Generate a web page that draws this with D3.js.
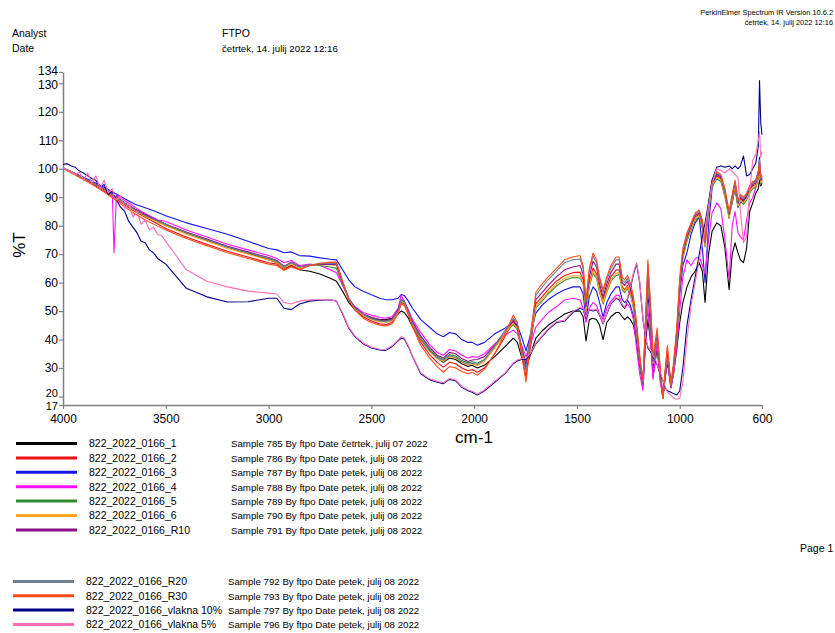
<!DOCTYPE html>
<html><head><meta charset="utf-8">
<script src="https://cdn.jsdelivr.net/npm/d3@7/dist/d3.min.js"></script>
<style>body{margin:0;background:#fff;} svg{display:block;font-family:"Liberation Sans",Arial,sans-serif;}</style>
</head><body><svg id="c" width="835" height="633"></svg>
<script>
// ---------------- DATA ----------------
const xTicks = [4000, 3500, 3000, 2500, 2000, 1500, 1000, 600];
const yTicks = [17, 20, 30, 40, 50, 60, 70, 80, 90, 100, 110, 120, 130, 134];

const seriesNames = ["822_2022_0166_1","822_2022_0166_2","822_2022_0166_3","822_2022_0166_4","822_2022_0166_5","822_2022_0166_6","822_2022_0166_R10","822_2022_0166_R20","822_2022_0166_R30","822_2022_0166_vlakna 10%","822_2022_0166_vlakna 5%"];
const sampleInfo = ["Sample 785 By ftpo Date četrtek, julij 07 2022","Sample 786 By ftpo Date petek, julij 08 2022","Sample 787 By ftpo Date petek, julij 08 2022","Sample 788 By ftpo Date petek, julij 08 2022","Sample 789 By ftpo Date petek, julij 08 2022","Sample 790 By ftpo Date petek, julij 08 2022","Sample 791 By ftpo Date petek, julij 08 2022","Sample 792 By ftpo Date petek, julij 08 2022","Sample 793 By ftpo Date petek, julij 08 2022","Sample 797 By ftpo Date petek, julij 08 2022","Sample 796 By ftpo Date petek, julij 08 2022"];
const seriesColors = ["#000000","#e81010","#1515e6","#ff10ff","#2e8b2e","#ffa520","#8a108a","#708090","#ff4a1a","#00008b","#ff6eb4"];

// wavenumber grids (cm-1)
const wnHeadCoarse = [4000,3950,3900,3850,3800,3750,3700,3650,3600,3550];
const wnHeadFine = [4000,3980,3960,3940,3920,3900,3880,3860,3840,3820,3800,3780,3760,3752,3740,3720,3700,3680,3660,3640,3620,3600,3580,3560,3540,3520];
const wnBody = [3500,3400,3300,3200,3100,3000,2960,2925,2890,2850,2800,2750,2700,2670,2640,2610,2580,2540,2500,2460,2430,2400,2370,2355,2340,2320,2300,2260,2220,2180,2150,2120,2090,2060,2030,2010,1985,1950,1900,1850,1810,1790,1770,1748,1725,
 1700,1670,1640,1600,1560,1520,1485,1470,1456,1440,1422,1405,1390,1373,1355,1335,1310,1295,1280,1268,1255,1240,1225,1210,1195,1179,1165,1155,1140,1130,1120,1110,1095,1082,1070,1060,1043,1030,1014,1000,985,965,945,925,905,890,877,860,843,820,800,780,760,745,731,717,705,690,675,660,645,630,618,612,606,600];

// %T values
const s1Head = [100.3,98.5,96.7,94.8,92.8,90.5,88,85.8,84,82.3];
const s1Body = [80.5,77.5,75,72.5,70.3,68,67,65,66,64.5,64,63,61.5,60.5,57,53,50.5,48.5,47.5,47,47,47.5,49,50,49.5,47.5,44.5,40,36.5,33.5,32,33.5,33,31.5,30.5,31,30,31,34,37.5,40.5,39,34,30,35,
 40.5,43,45,47,49,50,50,48,39.5,47,47.5,47,45,40,46,48,49.5,49.5,48,47,48,47,45,39,31,24,40,47,38,27,32,37,26,20,27,32,23,28,37,46,53,58.5,62,64,67,64,53,70,78,81,80,72,57.5,70,74,70.5,68,67,72,85,88,91.5,93,96,94,95];

const s2Head = [100.2,98.3,96.4,94.4,92.2,89.8,87.3,85,83,81];
const s2Body = [79,76,73.5,71,69,67,66.5,64.5,66,64.8,66,66.5,67,67,60,54,50.5,48,46.5,45.5,45.3,46,49.5,53,52.5,49,45,39,35,32,30.3,32,31.5,30,29,29.5,28.5,30,35,41,47,44.5,35,27,38,
 52.5,55,57.5,60.5,62.5,63.5,63.7,61,50.5,60,65.1,63,58,54,58,62,64.4,64.5,58.5,57.5,59,56.5,52,43,33,24.5,46,63.5,46,32,37,41.5,28,19.5,29,35.5,23.5,30,42.5,59.5,69.5,75.5,79.5,83,84,80,73.5,86.5,94.5,97.5,96.5,91,83.5,89.5,94.5,87.5,89.5,88.5,90,92.5,94,94.5,97.5,99,95.5,96.5];

const s3Head = [100.4,98.7,97,95.3,93.5,91.5,89.5,87.5,86.3,85];
const s3Body = [83.5,81,79,77,74.5,72,71.5,70.5,70.8,69.5,69.3,68.7,68.2,68,64.5,61,58.5,57,55.7,54.5,54,54,54.5,55.8,55.5,53.5,51,47,44.5,42,41,42.5,42,40,39,39,38,39,42,44,46,45,41,36,42,
 49.3,52,54,56,57.5,58.5,58.5,56,47,55,58.5,57,53,48,53,56,58.5,58.5,54,53,54,52,48,40,31,24,45,56.5,42,30,35,40,27,19.5,28,35,24,31,42,56,66,70.5,77,81,83,72,60,80,93,98.5,97,92,84,88,93,86.5,88,89,90,94,95,96,99,104,96,97];

const s4Head = [100.3,99.6,98.9,98.2,97.5,96.8,96,95.5,94.6,94,93,92.3,91.5,70.5,90.8,89.8,88.8,88,87,86,85,84.3,83.5,82.8,82,81.8];
const s4Body = [81.5,78.5,76,73.5,71.5,69.5,68.5,67,67.8,66,66.5,66,64.5,63.5,59,54.5,51.5,49.5,48.5,47.8,47.5,48,51,55.5,53.5,50.5,47,42.5,38.5,35.5,34.5,36.5,36,34.5,33.5,34,33.8,35,38.5,41.5,43.3,42,38,34,38.5,
 44.4,47,49.5,51.5,53.9,54.5,54,51,46,51,53,52,49,47,51,53.5,55.5,55.5,52,51,52.5,51,47,37,28,22,42,51,37,26,33,38,25,19.5,27,33,23,28,38,50,62,68,66,68.5,69,66,63,75,84.5,88,86,75,61,80,85,77.5,76,75,82,88,90,93.5,97,100,95,96];

const s5Head = [100.3,98.5,96.7,94.8,92.7,90.3,87.8,85.5,83.5,81.8];
const s5Body = [80,77.5,75,72.5,70.5,68.5,67.5,65.5,67,65.5,66,66,65.5,65,59.5,54,51,48.8,47.5,46.8,46.5,47,50,53.5,53,49.5,45.8,40.5,36.8,34,33,34.7,34.2,32.6,31.8,32.2,31.7,33,37.5,42,45.3,43.5,37,32,40,
 51,53.5,56,58.8,60.8,61.8,61.6,59.5,49.5,58.5,63.3,61.5,56.5,52.5,56.5,60.5,62.5,62.8,57.5,56.5,58,55.5,51,42,32.5,24.5,45,62.5,45,31.5,36.5,40.5,28,19.5,28.5,35,23.5,29.5,41.5,58.5,68.5,74.5,78.5,82,83,79,72.5,85.5,93.5,96.5,95.5,90,82.5,88.5,93.5,86.5,88.5,87.5,89,91.5,93,93.5,96.5,97.5,94.5,95.5];

const s6Head = [100.3,98.4,96.6,94.7,92.6,90.2,87.7,85.3,83.3,81.6];
const s6Body = [80,77,74.5,72,70,68,67,65,66.5,65,66,66.3,66.3,66,60,54,50.8,48.5,47,46.3,46,46.5,49.5,53.5,53,49.3,45.5,40,36,33.3,32.3,34,33.5,32,31,31.5,30.8,32.3,37,42,46,44,36.5,31,40.5,
 51.5,54,56.5,59.5,61.5,62.5,62.3,60,50,59,64,62,57,53,57,61,63.3,63.5,58,57,58.5,56,51.5,42.5,32.5,24.5,45.5,63,45.5,31.5,36.5,41,28,19.5,28.5,35,23.5,30,42,59,69,75,79,82.5,83.5,79.5,73,86,94,97,96,90.5,83,89,94,87,89,88,89.5,92,93.5,94,97,98,95,96];

const r10Head = [100.3,98.5,96.7,94.8,92.8,90.5,88,85.8,83.8,82.2];
const r10Body = [80.5,77.8,75.3,72.8,70.8,68.8,67.8,65.8,67.2,65.6,66.2,66.4,66.4,66.3,60,54.5,51.3,49,47.8,47,46.8,47.3,50.5,54,53.5,50,46.3,41.3,37.5,34.5,33.5,35.5,35,33.3,32.3,32.8,33,34,38,43,46.5,44.5,37.5,31,42,
 54,56.5,59,62,64.5,65.5,66,63,51.5,62,67.5,65.5,59.5,55,59.5,63.5,66.5,66.5,60,59,60.5,58,53,44,33.5,24.5,47,65,47,32.5,37.5,42,28.5,19.5,29,36,23.5,30.5,43,60,70,76,80,83.5,84.5,80.5,74,87,95,98,97,91.5,84,90,95,88,90,89,90.5,93,94.5,95,98,100,96,97];

const r20Head = [100.3,98.5,96.7,94.8,92.7,90.4,87.9,85.6,83.6,82];
const r20Body = [80.5,77.5,75,72.5,70.5,68.5,67.5,65.5,67,65.5,66.3,66.6,66.8,66.7,60.5,54.5,51,48.8,47.3,46.5,46.3,46.8,50,53.8,53.3,49.7,45.7,40,36.3,33.6,32.7,34.3,33.8,32.2,31.3,31.7,31.2,32.8,37.8,43,47.5,45.5,37,29,42.5,
 55.5,58.3,61,64,67,68,68.3,65,53,64,69.3,67,61,56.5,61,65,68,68,61,60,61.5,59,54,45,34,25,48.5,66.5,48.5,33,38,43,29,19.5,29.5,37,24,31,44,61,71,76.8,80.5,84,85,81,74.5,87.5,95.5,98.5,97.5,92,84.5,90.5,95.5,88.5,90.5,89.5,91,93.5,95,95.5,98.5,101,96.5,97.5];

const r30Head = [100.1,98.2,96.2,94.1,91.8,89.3,86.6,84.2,82,80.2];
const r30Body = [78.5,75.5,73,70.5,68.5,66.5,66,64.3,65.5,64.5,66,66.8,67.2,67.2,60.5,54,50.3,47.5,46,45,44.8,45.5,49,52.5,52,48.5,44.5,38,33.8,30.5,28.5,30.5,30,28.8,28,28.5,27.5,29.5,35,42,48.6,46,35,25,40,
 56.7,59.5,62,65,68,69,69.5,66,54,65,70.4,68,62,57.5,62,66,69,69,62,61,62.5,60,55,46,35,25.5,50,68,50,34,39,44,30,19.5,30,38,24,32,45,62,72,77.5,81,84.5,85.5,82,75,88,96,99,98,93,85,91,96,89,91,90,91.5,94,95.5,96,99,103,97,98];

const v10Head = [101.5,101.8,101,100.5,99.2,98.5,97.5,96.6,96,93.5,94.5,91,92,90.5,89,86.5,85,81.5,79.5,77.5,74.5,74,71.5,70.5,68.5,67.5];
const v10Body = [66.5,58,55,53.2,53.3,54.5,54.5,51,50.5,52.5,53.5,53.8,54,53.5,49,44,41,38.5,37,36.3,36.2,37.5,39.5,40.5,40.2,37.5,34,28,26,25,24.5,26,25.5,23.2,22,21.5,20.5,22,25,28,31.5,32.5,33,33,35,
 38.5,41,43.5,46,46.5,49.5,51,50.5,47.5,50.5,50,50.5,48.5,45.5,49,52.5,54.5,54,52,51,54,58,63,66.5,60,47,40,37,35.5,34,33,31,28,25.5,23,22,21.5,21,20.5,22,30,45,54,62,70,76,81,88,96,100.5,101,100.5,101,100,101,100,101,104.5,97.5,98,100,102,108,131,116,112];

const v5Head = [100.5,99.5,99,98,98.8,96,98.5,95,97.5,93,96,91.5,93,90,89,90.5,86,88,83,85,80.5,82,78.5,79.5,77,76.5];
const v5Body = [74.5,64.5,60.5,58.5,57,56.3,56,53,52.5,53.5,54,54,54,53.5,49.3,44.3,41.3,38.8,37.3,36.6,36.5,37.8,39.8,41,40.5,37.8,34.3,28.3,26.3,25.3,24.8,26.3,25.8,23.5,22.3,21.8,20.8,22.3,25.3,28.3,31.8,32.8,33.3,33.5,35.3,
 38.8,41.3,43.8,46.3,46.8,49.8,51.3,50.8,47.8,50.8,50.3,50.8,48.8,45.8,49.3,52.8,54.8,54.3,52.3,51.3,54.5,58.5,63.5,67,60.5,47.5,40.5,37.5,36,34.3,33.3,31.3,28.3,25.8,23.3,21.5,20.5,19.5,19,19.5,25,40,52,60,68,74,79,87,95,100,99.5,98.5,100,99,98,97,85,74,76,92,103,105,110,113,104,106];

const seriesHeads = [s1Head,s2Head,s3Head,s4Head,s5Head,s6Head,r10Head,r20Head,r30Head,v10Head,v5Head];
const seriesBodies = [s1Body,s2Body,s3Body,s4Body,s5Body,s6Body,r10Body,r20Body,r30Body,v10Body,v5Body];

// ---------------- DRAW ----------------
const svg = d3.select('#c');
const x = d3.scaleLinear().domain([4000, 600]).range([63, 762]);
const y = d3.scaleLinear().domain([17, 134]).range([405, 72]);
const axisColor = "#808080";

// header
const hdr = svg.append('g').attr('fill', '#000');
hdr.append('text').attr('x', 12).attr('y', 37).attr('font-size', 10.5).text('Analyst');
hdr.append('text').attr('x', 12).attr('y', 52).attr('font-size', 10.5).text('Date');
hdr.append('text').attr('x', 222).attr('y', 37).attr('font-size', 10.5).text('FTPO');
hdr.append('text').attr('x', 222).attr('y', 52).attr('font-size', 9.7).text('četrtek, 14. julij 2022 12:16');
svg.append('text').attr('x', 833).attr('y', 15).attr('text-anchor','end').attr('font-size', 7.4).text('PerkinElmer Spectrum IR Version 10.6.2');
svg.append('text').attr('x', 833).attr('y', 25).attr('text-anchor','end').attr('font-size', 7.4).text('četrtek, 14. julij 2022 12:16');

// axes
const yAxis = svg.append('g').attr('transform', 'translate(63,0)')
  .call(d3.axisLeft(y).tickValues(yTicks).tickFormat(d3.format('d')).tickSize(4).tickSizeOuter(0).tickPadding(1));
const xAxis = svg.append('g').attr('transform', 'translate(0,405)')
  .call(d3.axisBottom(x).tickValues(xTicks).tickFormat(d3.format('d')).tickSize(4).tickSizeOuter(0).tickPadding(5));
[yAxis, xAxis].forEach(a => {
  a.select('.domain').attr('stroke', axisColor).attr('stroke-width', 1.5);
  a.selectAll('.tick line').attr('stroke', axisColor).attr('stroke-width', 1.2);
  a.selectAll('.tick text').attr('fill', '#000').attr('font-family', '"Liberation Sans",Arial,sans-serif').attr('font-size', 12);
});
// nudge crowded end labels apart, as the reference does
const yLabelShift = {134: -1.8, 130: 1.5, 20: -3.2, 17: 1.2};
yAxis.selectAll('.tick text').attr('y', d => yLabelShift[d] || 0)
  .attr('font-size', d => (d === 17 || d === 20) ? 11 : 12);

svg.append('text').attr('transform', 'translate(25,245) rotate(-90)').attr('text-anchor','middle')
  .attr('font-size', 17).text('%T');
svg.append('text').attr('x', 474).attr('y', 443).attr('text-anchor','middle').attr('font-size', 17).text('cm-1');

// series
svg.append('clipPath').attr('id','clip').append('rect').attr('x',63).attr('y',60).attr('width',701).attr('height',346);
const line = d3.line().x(d => x(d[0])).y(d => y(d[1]));
const plot = svg.append('g').attr('clip-path','url(#clip)');
seriesNames.forEach((name, i) => {
  const head = seriesHeads[i];
  const hx = head.length === wnHeadFine.length ? wnHeadFine : wnHeadCoarse;
  const pts = hx.map((w, k) => [w, head[k]]).concat(wnBody.map((w, k) => [w, seriesBodies[i][k]]));
  plot.append('path').datum(pts.filter(p => p[1] != null))
    .attr('fill','none').attr('stroke', seriesColors[i]).attr('stroke-width', 1.1)
    .attr('stroke-linejoin','round').attr('d', line);
});

// legend
const legend = svg.append('g');
seriesNames.forEach((name, i) => {
  const first = i < 7;
  const row = first ? i : i - 7;
  const ly = first ? 443.5 + row * 14.4 : 581.5 + row * 14.3;
  const x0 = first ? 16 : 13;
  legend.append('line').attr('x1', x0).attr('x2', x0 + 61).attr('y1', ly).attr('y2', ly)
    .attr('stroke', seriesColors[i]).attr('stroke-width', 3);
  legend.append('text').attr('x', x0 + 73).attr('y', ly + 3.8).attr('font-size', 10.5).text(name);
  legend.append('text').attr('x', first ? 231 : 228).attr('y', ly + 3.8).attr('font-size', 9.7).text(sampleInfo[i]);
});
svg.append('text').attr('x', 800).attr('y', 552).attr('font-size', 10.5).text('Page 1');
</script></body></html>
